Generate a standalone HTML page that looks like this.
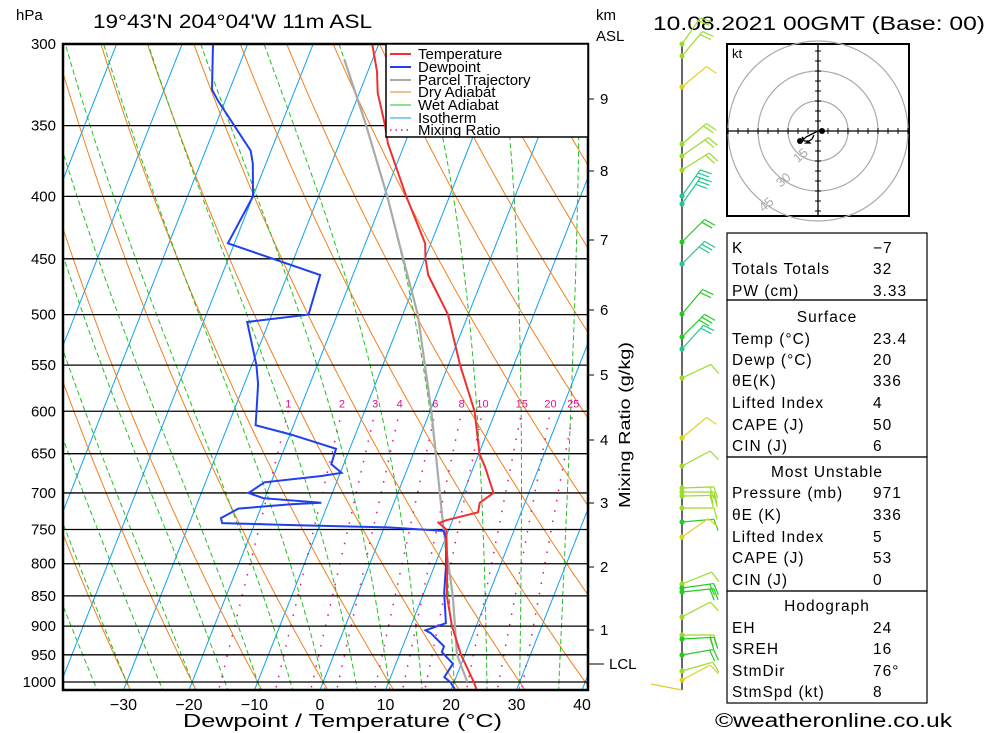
<!DOCTYPE html>
<html><head><meta charset="utf-8"><style>
html,body{margin:0;padding:0;background:#fff;overflow:hidden}
svg{display:block;font-family:"Liberation Sans",sans-serif}
</style></head><body>
<svg id="chart" width="1000" height="733" viewBox="0 0 1000 733" xmlns="http://www.w3.org/2000/svg">
<defs><clipPath id="plotclip"><rect x="63" y="44" width="525" height="646"/></clipPath></defs>
<rect x="0" y="0" width="1000" height="733" fill="#fff"/>
<g id="bg" clip-path="url(#plotclip)"></g>
<g id="plines"></g>
<g id="series" clip-path="url(#plotclip)"></g>
<rect x="63" y="44" width="525" height="646" fill="none" stroke="#000" stroke-width="2.5"/>
<g id="labels"></g>
<text x="16" y="20" font-size="15">hPa</text>
<text x="93" y="28" font-size="19" textLength="279" lengthAdjust="spacingAndGlyphs">19°43'N 204°04'W 11m ASL</text>
<text x="596" y="20" font-size="15">km</text>
<text x="596" y="41" font-size="15">ASL</text>
<text x="653" y="30" font-size="19" textLength="332" lengthAdjust="spacingAndGlyphs">10.08.2021 00GMT (Base: 00)</text>
<text x="183" y="727" font-size="18" textLength="319" lengthAdjust="spacingAndGlyphs">Dewpoint / Temperature (°C)</text>
<text x="630" y="425" font-size="16" text-anchor="middle" transform="rotate(-90 630 425)" textLength="166" lengthAdjust="spacingAndGlyphs">Mixing Ratio (g/kg)</text>
<g>
<rect x="386" y="44" width="202" height="93" fill="#fff" stroke="#000" stroke-width="1.5"/>
<line x1="390" y1="54" x2="411" y2="54" stroke="#f03030" stroke-width="2"/>
<text x="418" y="59" font-size="15">Temperature</text>
<line x1="390" y1="67" x2="411" y2="67" stroke="#2040f0" stroke-width="2"/>
<text x="418" y="72" font-size="15">Dewpoint</text>
<line x1="390" y1="80" x2="411" y2="80" stroke="#aaa" stroke-width="2"/>
<text x="418" y="85" font-size="15">Parcel Trajectory</text>
<line x1="390" y1="92" x2="411" y2="92" stroke="#f08020" stroke-width="1"/>
<text x="418" y="97" font-size="15">Dry Adiabat</text>
<line x1="390" y1="105" x2="411" y2="105" stroke="#20c020" stroke-width="1"/>
<text x="418" y="110" font-size="15">Wet Adiabat</text>
<line x1="390" y1="118" x2="411" y2="118" stroke="#10a0f0" stroke-width="1"/>
<text x="418" y="123" font-size="15">Isotherm</text>
<line x1="390" y1="130" x2="411" y2="130" stroke="#e0108a" stroke-width="1.5" stroke-dasharray="1.5 4"/>
<text x="418" y="135" font-size="15">Mixing Ratio</text>
</g>
<g id="winds">
<line x1="682" y1="44" x2="682" y2="690" stroke="#000" stroke-width="1.2"/>
</g>
<g id="hodo">
<rect x="727" y="44" width="182" height="172" fill="#fff" stroke="#000" stroke-width="2"/>
<text x="732" y="58" font-size="13">kt</text>
</g>
<g font-size="15.5" letter-spacing="1">
<rect x="727" y="233" width="200" height="67" fill="none" stroke="#000" stroke-width="1.2"/>
<rect x="727" y="300" width="200" height="157" fill="none" stroke="#000" stroke-width="1.2"/>
<rect x="727" y="457" width="200" height="134" fill="none" stroke="#000" stroke-width="1.2"/>
<rect x="727" y="591" width="200" height="112" fill="none" stroke="#000" stroke-width="1.2"/>
<g id="tablerows"></g>
</g>
<text x="715" y="727" font-size="19" textLength="237" lengthAdjust="spacingAndGlyphs">©weatheronline.co.uk</text>
</svg>
<script>
// ---- chart data ----
const tempP = [300,316,329,350,362,400,437,450,464,500,550,600,650,667,700,713,726,737,741,750,800,850,900,950,1000,1013];
const tempT = [-31.0,-28.6,-27.2,-24.1,-22.6,-16.6,-10.9,-9.9,-8.5,-3.1,1.8,6.8,10.1,11.8,14.6,13.1,13.4,9.0,8.1,9.6,11.8,13.7,16.3,19.4,23.0,23.8];
const dewP = [300,327,334,367,376,400,437,464,500,507,550,570,600,616,627,644,663,674,678,686,700,707,713,715,721,734,741,744,747,750,752,764,805,845,895,907,912,935,945,966,991,1000,1013];
const dewT = [-55.3,-52.7,-51.1,-43.1,-42.0,-40.0,-41.0,-25.0,-24.4,-33.3,-29.3,-27.9,-26.5,-25.8,-19.8,-12.1,-11.9,-9.8,-12.7,-21.0,-22.8,-20.2,-11.1,-15.6,-23.4,-25.5,-25.0,-13.3,0.6,5.8,9.3,10.2,11.8,13.1,15.2,12.5,13.5,16.3,16.3,18.7,18.2,19.4,20.5];
const parcelP = [309,348,400,440,500,600,750,850,950,1000];
const parcelT = [-34.3,-27.3,-19.5,-14.5,-7.7,0.2,9.2,14.6,18.8,22.0];
const pressureTicks = [300,350,400,450,500,550,600,650,700,750,800,850,900,950,1000];
const tempTicks = [-30,-20,-10,0,10,20,30,40];
const kmTicks = ["9","8","7","6","5","4","3","2","1","LCL"];
const kmTickY = [99,171,240,310,375,440,503,567,630,664];
const mixRatios = [1,2,3,4,6,8,10,15,20,25];
const isotherms = [-110,-100,-90,-80,-70,-60,-50,-40,-30,-20,-10,0,10,20,30,40];
const dryThetas = [-40,-30,-20,-10,0,10,20,30,40,50,60,70,80,90,100,110,120,130,140,150,160,170,180,190,200];
const wetThetas = [-40,-35,-30,-25,-20,-15,-10,-5,0,5,10,15,20,25,30,36];
const windY = [44,56,87,144,156,170,196,204,242,264,314,337,349,378,438,466,488,492,496,508,522,537,584,588,592,617,635,639,655,671,680];
const windAng = [-55,-50,-40,-40,-35,-32,-55,-55,-45,-45,-50,-45,-48,-25,-40,-28,-2,0,-1,0,-5,-35,-22,-8,-6,-28,0,-3,-10,-16,-28];
const windFeath = [2,2,1,2,2,2,3,3,2,3,2,3,2,1,1,1,2,2,2,1,1,1,1,2,2,1,2,2,2,1,1];
const windCol = ["#9bdc28","#9bdc28","#e0d020","#9bdc28","#9bdc28","#9bdc28","#20c890","#20c890","#22cc22","#20c890","#22cc22","#22cc22","#20c890","#9bdc28","#e0d020","#9bdc28","#9bdc28","#9bdc28","#9bdc28","#9bdc28","#22cc22","#e0d020","#9bdc28","#22cc22","#22cc22","#9bdc28","#9bdc28","#22cc22","#22cc22","#9bdc28","#e0d020"];
const hodoU = [2,0,-2,-4,-6,-7,-8,-7,-5,-4,-6,-3,-2];
const hodoV = [0,0,-1,-2,-3,-4,-3,-5,-5,-6,-6,-4,-2];

// ---- axes ----
const NS = "http://www.w3.org/2000/svg";
function yP(p){ return 682 + 530*Math.log(p/1000); }
function xT(T,p){ return 320 + 6.55*T + 0.395*(690 - yP(p)); }
function mk(tag, attrs, parent){
  const e = document.createElementNS(NS, tag);
  for (const k in attrs) e.setAttribute(k, attrs[k]);
  parent.appendChild(e); return e;
}
const bg = document.getElementById('bg');
const series = document.getElementById('series');
const labels = document.getElementById('labels');
const plines = document.getElementById('plines');

function pathFrom(ps, ts){
  let d = "";
  for (let i=0;i<ps.length;i++){ d += (i?"L":"M") + xT(ts[i],ps[i]).toFixed(1) + "," + yP(ps[i]).toFixed(1); }
  return d;
}
isotherms.forEach(T=>{
  const l = mk('line',{x1:xT(T,1050),y1:yP(1050),x2:xT(T,290),y2:yP(290),stroke:'#10a0f0','stroke-width':1},bg);
  
  
});
dryThetas.forEach(th=>{
  const ps=[],ts=[];
  for(let p=1050;p>=290;p-=10){ ps.push(p); ts.push((th+273.15)*Math.pow(p/1000,0.2857)-273.15); }
  const e = mk('path',{d:pathFrom(ps,ts),fill:'none',stroke:'#f08020','stroke-width':1},bg);
  
  
});
function es(T){ return 6.112*Math.exp(17.67*T/(T+243.5)); }
function moist(T,p){ const Tk=T+273.15, rs=0.622*es(T)/(p-es(T)); const Rd=287,cp=1005,Lv=2.5e6;
  return (Rd*Tk+Lv*rs)/(cp+Lv*Lv*rs*0.622/(Rd*Tk*Tk))/p; }
wetThetas.forEach(th=>{
  const up=[[1000,th]]; let T=th;
  for(let p=1000;p>290;p-=5){ T -= moist(T,p)*5; up.push([p-5,T]); }
  const dn=[]; T=th;
  for(let p=1000;p<1050;p+=5){ T += moist(T,p)*5; dn.push([p+5,T]); }
  const all = dn.reverse().concat(up);
  const e = mk('path',{d:pathFrom(all.map(a=>a[0]),all.map(a=>a[1])),fill:'none',stroke:'#20c020','stroke-width':1,'stroke-dasharray':'5 3'},bg);
  
  
});
function tw(w,p){ const e=1.13*w*p/(622+w); const a=Math.log(e/6.112); return 243.5*a/(17.67-a); }
mixRatios.forEach(w=>{
  const e = mk('line',{x1:xT(tw(w,1050),1050),y1:yP(1050),x2:xT(tw(w,600),600),y2:yP(600),stroke:'#e0108a','stroke-width':1.5,'stroke-dasharray':'1.5 9'},bg);
  
  
  const t = mk('text',{x:xT(tw(w,600),600),y:yP(600)-4,'font-size':11,fill:'#e0108a','text-anchor':'middle'},labels);
  t.textContent = w;
  
  
});
pressureTicks.forEach(p=>{
  const l = mk('line',{x1:63,y1:yP(p),x2:588,y2:yP(p),stroke:'#000','stroke-width':1.3},plines);
  
  
  const t = mk('text',{x:56,y:yP(p)+5,'font-size':15,'text-anchor':'end'},labels);
  t.textContent = p;
  
  
});
tempTicks.forEach(T=>{
  const t = mk('text',{x:320+6.55*T,y:710,'font-size':16,'text-anchor':'middle'},labels);
  t.textContent = T<0 ? "\u2212"+(-T) : T;
  
  
});
kmTicks.forEach((k,i)=>{
  const l = mk('line',{x1:588,y1:kmTickY[i],x2:(k==="LCL"?604:594),y2:kmTickY[i],stroke:'#000','stroke-width':1},labels);
  
  
  const t = mk('text',{x:(k==="LCL"?609:600),y:kmTickY[i]+5,'font-size':15},labels);
  t.textContent = k;
  
  
});
const pp = mk('path',{d:pathFrom(parcelP,parcelT),fill:'none',stroke:'#aaa','stroke-width':2.2},series);


const dp = mk('path',{d:pathFrom(dewP,dewT),fill:'none',stroke:'#2040f0','stroke-width':2},series);


const tp = mk('path',{d:pathFrom(tempP,tempT),fill:'none',stroke:'#f03030','stroke-width':2},series);



const winds = document.getElementById('winds');
windY.forEach((y,i)=>{
  const a = windAng[i]*Math.PI/180, L = 32;
  const ex = 682+L*Math.cos(a), ey = y+L*Math.sin(a);
  const g = mk('g',{stroke:windCol[i],'stroke-width':1.2,fill:'none'},winds);
  
  
  mk('line',{x1:682,y1:y,x2:ex,y2:ey},g);
  const fa = a + 75*Math.PI/180;
  for(let f=0;f<windFeath[i];f++){
    const bx = ex - f*4*Math.cos(a), by = ey - f*4*Math.sin(a);
    mk('line',{x1:bx,y1:by,x2:bx+12*Math.cos(fa),y2:by+12*Math.sin(fa)},g);
  }
  mk('circle',{cx:682,cy:y,r:2.6,fill:windCol[i],stroke:'none'},g);
});
const sb = mk('line',{x1:682,y1:690,x2:651,y2:684,stroke:'#e0d020','stroke-width':1.2},winds);



const hodo = document.getElementById('hodo');
const cx=818, cy=131, kpx=2;
[15,30,45].forEach(r=>{
  const c = mk('circle',{cx:cx,cy:cy,r:r*kpx,fill:'none',stroke:'#aaa','stroke-width':1.2},hodo);
  
  
  const ang = 125*Math.PI/180;
  const t = mk('text',{x:cx+r*kpx*Math.cos(ang),y:cy+r*kpx*Math.sin(ang)+4,'font-size':13,fill:'#aaa','text-anchor':'middle',transform:`rotate(-40 ${cx+r*kpx*Math.cos(ang)} ${cy+r*kpx*Math.sin(ang)})`},hodo);
  t.textContent = r;
  
  
});
const ha = mk('path',{d:`M727,${cy}H909M${cx},44V216`,stroke:'#000','stroke-width':1.3},hodo);


let td="";
for(let k=-45;k<=45;k+=5){ if(!k) continue; const o=k*kpx;
  td += `M${cx+o},${cy-3}V${cy+3}`; if(Math.abs(o)<86) td += `M${cx-3},${cy+o}H${cx+3}`; }
const ht = mk('path',{d:td,stroke:'#000','stroke-width':1},hodo);


let hd="";
hodoU.forEach((u,i)=>{ hd += (i?"L":"M")+(cx+u*kpx)+","+(cy-hodoV[i]*kpx); });
const hl = mk('path',{d:hd,fill:'none',stroke:'#000','stroke-width':1.3},hodo);


const hp1 = mk('circle',{cx:cx+4,cy:cy,r:3,fill:'#000'},hodo);


const hp2 = mk('circle',{cx:cx-18,cy:cy+10,r:3,fill:'#000'},hodo);



const rows = [
 ["K","\u22127",247],["Totals Totals","32",268],["PW (cm)","3.33",290],
 ["#Surface","",316],["Temp (°C)","23.4",338],["Dewp (°C)","20",359],["\u03b8E(K)","336",380],["Lifted Index","4",402],["CAPE (J)","50",424],["CIN (J)","6",445],
 ["#Most Unstable","",471],["Pressure (mb)","971",492],["\u03b8E (K)","336",514],["Lifted Index","5",536],["CAPE (J)","53",557],["CIN (J)","0",579],
 ["#Hodograph","",605],["EH","24",627],["SREH","16",648],["StmDir","76°",670],["StmSpd (kt)","8",691]
];
const tr = document.getElementById('tablerows');
rows.forEach(r=>{
  if(r[0][0]==="#"){
    const t = mk('text',{x:827,y:r[2]+6,'text-anchor':'middle'},tr);
    t.textContent = r[0].slice(1);
    
    
  } else {
    const t = mk('text',{x:732,y:r[2]+6},tr);
    t.textContent = r[0];
    
    
    const v = mk('text',{x:873,y:r[2]+6},tr);
    v.textContent = r[1];
    
    
  }
});
</script>
</body></html>
